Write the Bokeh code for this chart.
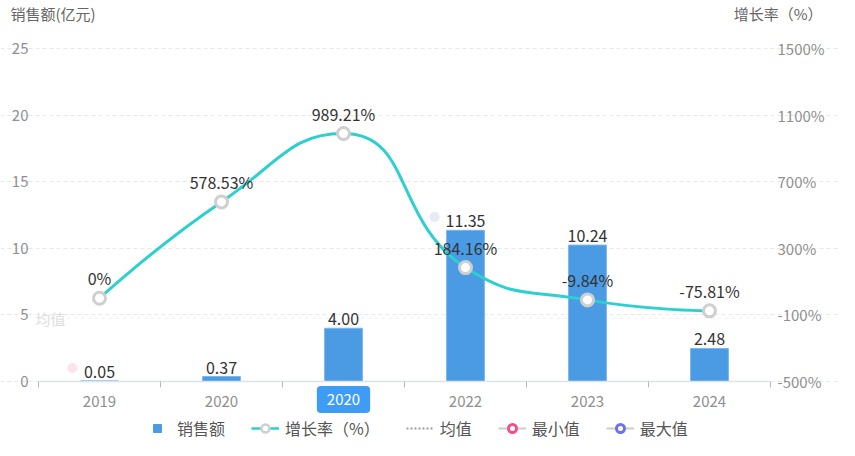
import numpy as np
from bokeh.plotting import figure
from bokeh.models import (Range1d, LinearAxis, FixedTicker, PrintfTickFormatter,
                          Legend, LegendItem, Label)
from bokeh.core.properties import value
from bokeh.embed import file_html
from bokeh.resources import INLINE

# ---------------- data ----------------
years = ["2019", "2020", "2020", "2022", "2023", "2024"]
sales = [0.05, 0.37, 4.00, 11.35, 10.24, 2.48]          # 销售额 (亿元)
growth = [0, 578.53, 989.21, 184.16, -9.84, -75.81]     # 增长率 (%)
left_ticks = [0, 5, 10, 15, 20, 25]
right_ticks = [-500, -100, 300, 700, 1100, 1500]
pointer_index = 2
pointer_text = "2020"

FONT = "Noto Sans CJK SC"
BAR = "#4a9be3"
LINE = "#2dcfcf"
NAN = float("nan")

n = len(years)
xs = [i + 0.5 for i in range(n)]
sales_labels = [f"{s:.2f}" for s in sales]
growth_labels = [f"{g:g}%" for g in growth]

# ---------------- layout (pixels) ----------------
W, H = 839, 440
PL, PR = 38, 770          # plot area left / right
PT, PB = 48, 381          # plot area top / bottom
sx = (PR - PL) / n                                   # px per category
sy_l = (PB - PT) / (left_ticks[-1] - left_ticks[0])  # px per left unit
sy_r = (PB - PT) / (right_ticks[-1] - right_ticks[0])

x_range = Range1d(-PL / sx, n + (W - PR) / sx)
y_range = Range1d(left_ticks[0] - (H - PB) / sy_l, left_ticks[-1] + PT / sy_l)
g_range = Range1d(right_ticks[0] - (H - PB) / sy_r, right_ticks[-1] + PT / sy_r)

p = figure(width=W, height=H, x_range=x_range, y_range=y_range,
           output_backend="svg", toolbar_location=None,
           min_border=0, min_border_left=0, min_border_right=0,
           min_border_top=0, min_border_bottom=0)
p.extra_y_ranges = {"g": g_range}
p.outline_line_color = None
p.background_fill_color = "white"
p.border_fill_color = "white"

# grid
p.xgrid.visible = False
p.ygrid.ticker = FixedTicker(ticks=left_ticks)
p.ygrid.bounds = (0, n)
p.ygrid.grid_line_color = "#e3e9ee"
p.ygrid.grid_line_dash = "4 3"

# left axis
ya = p.yaxis[0]
ya.fixed_location = 0
ya.ticker = FixedTicker(ticks=left_ticks)
ya.axis_line_color = None
ya.major_tick_line_color = None
ya.minor_tick_line_color = None
ya.major_tick_out = 0
ya.major_label_standoff = 10
ya.major_label_text_font = FONT
ya.major_label_text_font_size = "15px"
ya.major_label_text_color = "#8f8f8f"

# right axis
ra = LinearAxis(y_range_name="g", ticker=FixedTicker(ticks=right_ticks),
                formatter=PrintfTickFormatter(format="%d%%"), fixed_location=n)
ra.axis_line_color = None
ra.major_tick_line_color = None
ra.minor_tick_line_color = None
ra.major_tick_out = 0
ra.major_label_standoff = 7
ra.major_label_text_font = FONT
ra.major_label_text_font_size = "15px"
ra.major_label_text_color = "#8f8f8f"
p.add_layout(ra, "right")

# x axis
xa = p.xaxis[0]
xa.fixed_location = 0
xa.bounds = (0, n)
xa.ticker = FixedTicker(ticks=xs, minor_ticks=list(range(n + 1)))
xa.major_label_overrides = {x: ("" if i == pointer_index else years[i]) for i, x in enumerate(xs)}
xa.axis_line_color = "#dde3e8"
xa.axis_line_width = 1.5
xa.major_tick_line_color = None
xa.major_tick_out = 0
xa.major_tick_in = 0
xa.minor_tick_line_color = "#b8b8b8"
xa.minor_tick_out = 6
xa.minor_tick_in = 0
xa.major_label_standoff = 8
xa.major_label_text_font = FONT
xa.major_label_text_font_size = "15px"
xa.major_label_text_color = "#8f8f8f"

# mean line (faded, under the bars)
mean_val = float(np.mean(sales))
p.segment(x0=[0], x1=[n], y0=[mean_val], y1=[mean_val], line_color="#f1f1f1",
          line_dash="4 3", line_width=1, level="underlay")
p.add_layout(Label(x=0, y=mean_val, text="均值", x_offset=-3, text_align="left",
                   text_baseline="middle", text_font=FONT, text_font_size="15px",
                   text_color="#dedede"))

# bars
p.vbar(x=xs, top=sales, width=0.31, fill_color=BAR, line_color="#7ab6ec", line_width=1)
p.text(x=xs, y=sales, text=sales_labels, y_offset=-9, text_align="center",
       text_baseline="alphabetic", text_font=value(FONT), text_font_size="16px",
       text_color="#333333")

# faded min / max markers
imin = int(np.argmin(sales))
imax = int(np.argmax(sales))
p.text(x=[xs[imin]], y=[sales[imin]], text=["●"], x_offset=-27, y_offset=-14,
       text_align="center", text_baseline="middle", text_font=value(FONT),
       text_font_size="11px", text_color="#fde3ec")
p.text(x=[xs[imax]], y=[sales[imax]], text=["●"], x_offset=-31, y_offset=-14,
       text_align="center", text_baseline="middle", text_font=value(FONT),
       text_font_size="11px", text_color="#e9eaf8")

# smooth growth line (ECharts-like smoothing, computed in screen space)
P = [(x * sx, (g - right_ticks[0]) * sy_r) for x, g in zip(xs, growth)]
smooth = 0.5
segs = []
cp0 = P[0]
for k in range(1, n):
    x, y = P[k]
    px, py = P[k - 1]
    if k == n - 1:
        cp1 = (x, y)
        nxt0 = None
    else:
        nx, ny = P[k + 1]
        vx, vy = nx - px, ny - py
        lp = np.hypot(x - px, y - py)
        ln = np.hypot(nx - x, ny - y)
        r = ln / (ln + lp)
        ncx = x + vx * smooth * r
        ncy = y + vy * smooth * r
        ncx = min(ncx, max(nx, x)); ncy = min(ncy, max(ny, y))
        ncx = max(ncx, min(nx, x)); ncy = max(ncy, min(ny, y))
        vx, vy = ncx - x, ncy - y
        c1x = x - vx * lp / ln
        c1y = y - vy * lp / ln
        c1x = min(c1x, max(px, x)); c1y = min(c1y, max(py, y))
        c1x = max(c1x, min(px, x)); c1y = max(c1y, min(py, y))
        vx, vy = x - c1x, y - c1y
        ncx = x + vx * ln / lp
        ncy = y + vy * ln / lp
        cp1 = (c1x, c1y)
        nxt0 = (ncx, ncy)
    segs.append((P[k - 1], cp0, cp1, P[k]))
    cp0 = nxt0


def tx(v):
    return v / sx


def ty(v):
    return v / sy_r + right_ticks[0]


p.bezier(x0=[tx(s[0][0]) for s in segs], y0=[ty(s[0][1]) for s in segs],
         x1=[tx(s[3][0]) for s in segs], y1=[ty(s[3][1]) for s in segs],
         cx0=[tx(s[1][0]) for s in segs], cy0=[ty(s[1][1]) for s in segs],
         cx1=[tx(s[2][0]) for s in segs], cy1=[ty(s[2][1]) for s in segs],
         line_color=LINE, line_width=3, y_range_name="g")
p.scatter(x=xs, y=growth, marker="circle", size=12, fill_color="white",
          line_color="#cfcfcf", line_width=3, y_range_name="g")
p.text(x=xs, y=growth, text=growth_labels, y_offset=-20, text_align="center",
       text_baseline="alphabetic", text_font=value(FONT), text_font_size="16px",
       text_color="#333333", y_range_name="g")

# axis pointer label
p.add_layout(Label(x=xs[pointer_index], y=H - 399, x_units="data", y_units="screen",
                   text=pointer_text, text_align="center", text_baseline="middle",
                   text_font=FONT, text_font_size="15px", text_color="white",
                   background_fill_color="#3e9cf5", border_radius=4,
                   padding=dict(left=10, right=10, top=8, bottom=8)))

# axis titles
p.add_layout(Label(x=10, y=H - 13, x_units="screen", y_units="screen", text="销售额(亿元)",
                   text_align="left", text_baseline="middle", text_font=FONT,
                   text_font_size="15px", text_color="#666666"))
p.add_layout(Label(x=822, y=H - 13, x_units="screen", y_units="screen", text="增长率（%）",
                   text_align="right", text_baseline="middle", text_font=FONT,
                   text_font_size="15px", text_color="#666666"))

# legend-only renderers (one NaN point so the legend has a style to draw)
lg_bar = p.scatter(x=[NAN], y=[NAN], marker="square", size=9, fill_color=BAR, line_color=BAR)
lg_line = p.line(x=[NAN, NAN], y=[NAN, NAN], line_color=LINE, line_width=2.5)
lg_pt = p.scatter(x=[NAN], y=[NAN], marker="circle", size=11, fill_color="white",
                  line_color="#cfcfcf", line_width=2.5)
lg_mean = p.line(x=[NAN, NAN], y=[NAN, NAN], line_color="#9a9a9a", line_width=2,
                 line_dash="2 2")
lg_minl = p.line(x=[NAN, NAN], y=[NAN, NAN], line_color="#cccccc", line_width=2)
lg_minp = p.scatter(x=[NAN], y=[NAN], marker="circle", size=12, fill_color="white",
                    line_color="#f0508c", line_width=3)
lg_maxl = p.line(x=[NAN, NAN], y=[NAN, NAN], line_color="#cccccc", line_width=2)
lg_maxp = p.scatter(x=[NAN], y=[NAN], marker="circle", size=12, fill_color="white",
                    line_color="#6d72e8", line_width=3)

legend = Legend(items=[
    LegendItem(label="销售额", renderers=[lg_bar]),
    LegendItem(label="增长率（%）", renderers=[lg_line, lg_pt]),
    LegendItem(label="均值", renderers=[lg_mean]),
    LegendItem(label="最小值", renderers=[lg_minl, lg_minp]),
    LegendItem(label="最大值", renderers=[lg_maxl, lg_maxp]),
], orientation="horizontal", location=(143, 0))
legend.border_line_color = None
legend.background_fill_alpha = 0
legend.padding = 0
legend.margin = 0
legend.spacing = 26
legend.glyph_width = 28
legend.glyph_height = 20
legend.label_height = 20
legend.label_standoff = 6
legend.label_text_font = FONT
legend.label_text_font_size = "16px"
legend.label_text_color = "#555555"
legend.label_text_baseline = "middle"
p.add_layout(legend, "center")

open("out.html", "w").write(file_html(p, INLINE))
